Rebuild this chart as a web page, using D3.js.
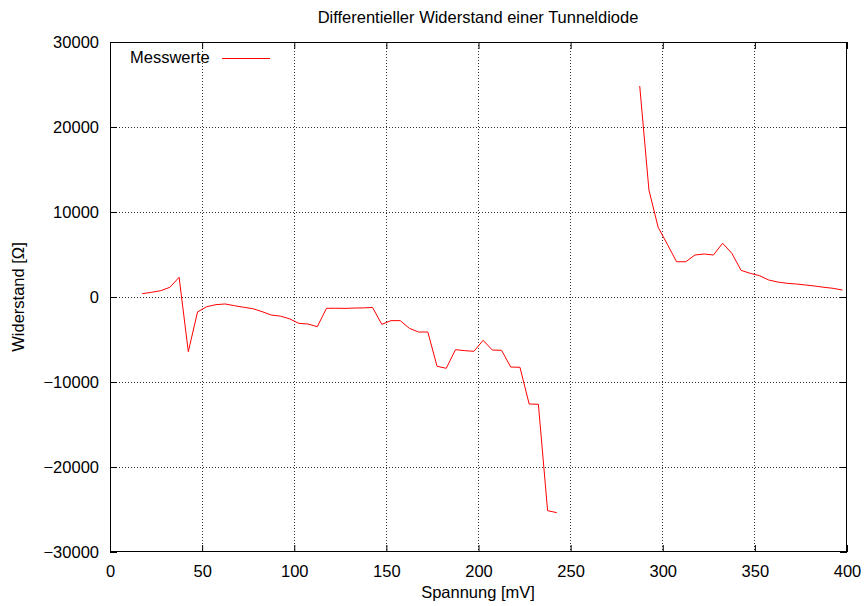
<!DOCTYPE html>
<html><head><meta charset="utf-8">
<script src="https://cdn.jsdelivr.net/npm/d3@7"></script>
<style>body{margin:0;background:#fff}svg{display:block}text{font-family:"Liberation Sans",Arial,sans-serif;fill:#000}</style>
</head><body><svg id="c" width="866" height="606"></svg>
<script>
const title = "Differentieller Widerstand einer Tunneldiode";
const xLabel = "Spannung [mV]";
const yLabel = "Widerstand [\u03A9]";
const seriesName = "Messwerte";
const xTicks = [0,50,100,150,200,250,300,350,400];
const yTicks = [-30000,-20000,-10000,0,10000,20000,30000];
// Spannung [mV] (null marks the gap in the measurement)
const voltage = [17.5,22.5,27.5,32.5,37.5,42.5,47.5,52.5,57.5,62.5,67.5,72.5,77.5,82.5,87.5,92.5,97.5,102.5,107.5,112.5,117.5,122.5,127.5,132.5,137.5,142.5,147.5,152.5,157.5,162.5,167.5,172.5,177.5,182.5,187.5,192.5,197.5,202.5,207.5,212.5,217.5,222.5,227.5,232.5,237.5,242.5,
  265,
  287.5,292.5,297.5,302.5,307.5,312.5,317.5,322.5,327.5,332.5,337.5,342.5,347.5,352.5,357.5,362.5,367.5,372.5,377.5,382.5,387.5,392.5,397.5];
// Widerstand [Ohm]
const resistance = [390,550,740,1140,2320,-6430,-1760,-1140,-900,-820,-1020,-1210,-1370,-1720,-2120,-2250,-2570,-3100,-3180,-3490,-1330,-1320,-1340,-1300,-1280,-1230,-3220,-2780,-2780,-3690,-4120,-4120,-8150,-8390,-6200,-6310,-6390,-5100,-6240,-6270,-8240,-8270,-12590,-12620,-25140,-25370,
  null,
  24820,12590,8200,6200,4150,4150,4940,5060,4940,6320,5140,3140,2780,2510,2000,1760,1610,1530,1410,1290,1140,1020,820];

const FS = "16.5px";
const data = voltage.map((v,i)=>({x:v,y:resistance[i]}));
const svg = d3.select("#c");
const L=110,R=847,T=42,B=552;
const x = d3.scaleLinear().domain([0,400]).range([L,R]);
const y = d3.scaleLinear().domain([-30000,30000]).range([B,T]);

// grid
const g = svg.append("g");
xTicks.slice(1,-1).forEach(t=>g.append("line").attr("x1",x(t)).attr("x2",x(t)).attr("y1",T).attr("y2",B)
  .attr("stroke","#333").attr("stroke-width",1).attr("stroke-dasharray","1,2").attr("shape-rendering","crispEdges"));
yTicks.slice(1,-1).forEach(t=>g.append("line").attr("x1",L).attr("x2",R).attr("y1",y(t)).attr("y2",y(t))
  .attr("stroke","#333").attr("stroke-width",1).attr("stroke-dasharray","1,2").attr("shape-rendering","crispEdges"));

// axes (inward ticks, mirrored)
const ax = svg.append("g");
ax.append("g").attr("transform",`translate(0,${B})`).call(d3.axisBottom(x).tickValues(xTicks).tickSizeInner(-7).tickSizeOuter(0).tickPadding(13));
ax.append("g").attr("transform",`translate(0,${T})`).call(d3.axisTop(x).tickValues(xTicks).tickSizeInner(-7).tickSizeOuter(0).tickFormat(""));
ax.append("g").attr("transform",`translate(${L},0)`).call(d3.axisLeft(y).tickValues(yTicks).tickSizeInner(-7).tickSizeOuter(0).tickPadding(11).tickFormat(d=>d<0?"\u2212"+Math.abs(d):String(d)));
ax.append("g").attr("transform",`translate(${R},0)`).call(d3.axisRight(y).tickValues(yTicks).tickSizeInner(-7).tickSizeOuter(0).tickFormat(""));
ax.selectAll(".domain").remove();
ax.selectAll("text").style("font-size",FS).style("font-family","'Liberation Sans',Arial,sans-serif");
ax.selectAll("line").attr("stroke","#000");
svg.append("rect").attr("x",L+0.5).attr("y",T+0.5).attr("width",R-L-1).attr("height",B-T-1).attr("fill","none").attr("stroke","#000").attr("stroke-width",1);

// line
const line = d3.line().defined(d=>d.y!==null).x(d=>x(d.x)).y(d=>y(d.y));
svg.append("path").datum(data).attr("d",line).attr("fill","none").attr("stroke","#ff0000").attr("stroke-width",1);

// legend
svg.append("text").attr("x",130).attr("y",63).style("font-size",FS).text(seriesName);
svg.append("line").attr("x1",222).attr("x2",270).attr("y1",58.5).attr("y2",58.5).attr("stroke","#ff0000").attr("stroke-width",1);

// titles
svg.append("text").attr("x",478).attr("y",23).attr("text-anchor","middle").style("font-size",FS).text(title);
svg.append("text").attr("x",478).attr("y",598).attr("text-anchor","middle").style("font-size",FS).text(xLabel);
svg.append("text").attr("transform","translate(24,297) rotate(-90)").attr("text-anchor","middle").style("font-size",FS).text(yLabel);
</script></body></html>
